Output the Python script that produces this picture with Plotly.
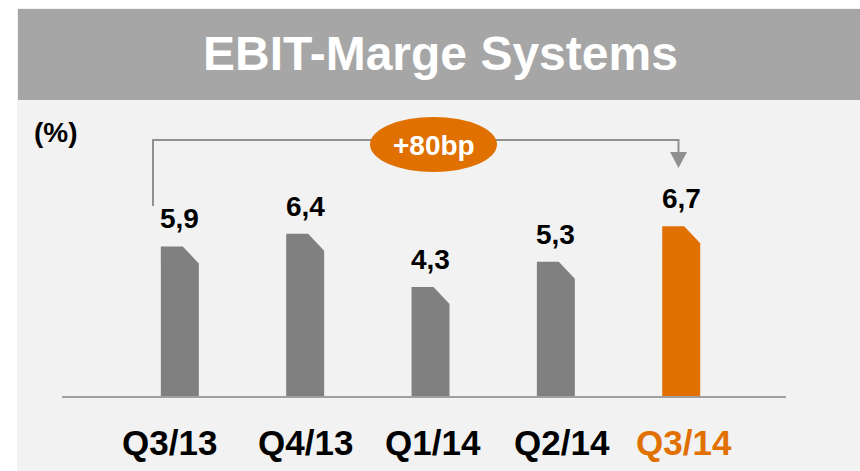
import plotly.graph_objects as go

# ---- data ----
categories = ["Q3/13", "Q4/13", "Q1/14", "Q2/14", "Q3/14"]
values = [5.9, 6.4, 4.3, 5.3, 6.7]
value_labels = ["5,9", "6,4", "4,3", "5,3", "6,7"]
title_text = "EBIT-Marge Systems"
unit_text = "(%)"
delta_text = "+80bp"

# ---- styles ----
GRAY_BAR = "#808080"
ORANGE = "#E07000"
bar_colors = [GRAY_BAR, GRAY_BAR, GRAY_BAR, GRAY_BAR, ORANGE]
label_colors = ["#000000", "#000000", "#000000", "#000000", ORANGE]
label_xshift = [-10, 0, 2, 6, 3]   # pixel nudges of category labels
PANEL = "#F2F2F2"
BANNER = "#A6A6A6"
LINE = "#909090"
FONT = "Liberation Sans, Arial, sans-serif"

W, H = 860, 471
ML, MR, MT, MB = 62, 74, 100, 75
PLOT_W = W - ML - MR
PLOT_H = H - MT - MB
Y_MAX = 11.68

BAR_W = 0.303      # in category units
CUT_X = 0.128      # corner cut, category units
CUT_Y = 0.67       # corner cut, value units


def px(x):
    return (x - ML) / PLOT_W


def py(y):
    return (H - MB - y) / PLOT_H


fig = go.Figure()

# bars with clipped top-right corner
for i, (v, c) in enumerate(zip(values, bar_colors)):
    xl, xr = i - BAR_W / 2, i + BAR_W / 2
    fig.add_trace(go.Scatter(
        x=[xl, xl, xr - CUT_X, xr, xr, xl],
        y=[0, v, v, v - CUT_Y, 0, 0],
        mode="lines", fill="toself", fillcolor=c,
        line=dict(width=0, color=c), hoverinfo="skip", showlegend=False,
    ))

annotations = []
# value labels
for i, (v, t) in enumerate(zip(values, value_labels)):
    annotations.append(dict(
        x=i, y=v, xref="x", yref="y", text=t, showarrow=False,
        yanchor="bottom", yshift=10,
        font=dict(family=FONT, size=28, color="#000000", weight="bold"),
    ))
# category labels
for i, (t, c, dx) in enumerate(zip(categories, label_colors, label_xshift)):
    annotations.append(dict(
        x=i, y=0, xref="x", yref="y", text=t, showarrow=False,
        yanchor="middle", yshift=-46, xshift=dx,
        font=dict(family=FONT, size=35, color=c, weight="bold"),
    ))
# title
annotations.append(dict(
    x=px(440), y=py(54), xref="paper", yref="paper", text=title_text,
    showarrow=False, xanchor="center", yanchor="middle",
    font=dict(family=FONT, size=48, color="#FFFFFF", weight="bold"),
))
# unit
annotations.append(dict(
    x=px(32), y=py(132), xref="paper", yref="paper", text=unit_text,
    showarrow=False, xanchor="left", yanchor="middle",
    font=dict(family=FONT, size=28, color="#000000", weight="bold"),
))
# delta text
annotations.append(dict(
    x=px(434), y=py(145), xref="paper", yref="paper", text=delta_text,
    showarrow=False, xanchor="center", yanchor="middle",
    font=dict(family=FONT, size=28, color="#FFFFFF", weight="bold"),
))

shapes = [
    # panel
    dict(type="rect", xref="paper", yref="paper", x0=px(17), x1=px(W + 2),
         y0=py(H + 2), y1=py(8), fillcolor=PANEL, line=dict(width=0), layer="below"),
    # banner
    dict(type="rect", xref="paper", yref="paper", x0=px(18), x1=px(W + 2),
         y0=py(100), y1=py(9), fillcolor=BANNER, line=dict(width=0), layer="below"),
    # bracket
    dict(type="path", xref="paper", yref="paper",
         path=f"M {px(153)},{py(206)} L {px(153)},{py(140)} L {px(678.5)},{py(140)} L {px(678.5)},{py(153)}",
         line=dict(color=LINE, width=2), layer="above"),
    # arrow head
    dict(type="path", xref="paper", yref="paper",
         path=f"M {px(670)},{py(152)} L {px(687)},{py(152)} L {px(678.5)},{py(168)} Z",
         fillcolor=LINE, line=dict(width=0), layer="above"),
    # ellipse
    dict(type="circle", xref="paper", yref="paper", x0=px(370), x1=px(497),
         y0=py(172), y1=py(117), fillcolor=ORANGE, line=dict(width=0), layer="above"),
]

fig.update_layout(
    width=W, height=H,
    margin=dict(l=ML, r=MR, t=MT, b=MB, pad=0),
    paper_bgcolor="#FFFFFF", plot_bgcolor="rgba(0,0,0,0)",
    showlegend=False,
    xaxis=dict(range=[-0.94, 4.836], showticklabels=False, showgrid=False,
               zeroline=False, showline=True, linecolor="#A0A0A0", linewidth=2,
               ticks="", fixedrange=True),
    yaxis=dict(range=[0, Y_MAX], visible=False, fixedrange=True),
    shapes=shapes,
    annotations=annotations,
)

fig.write_html(
    "out.html",
    config={"displayModeBar": False},
    post_script="document.body.style.margin='0';document.body.style.overflow='hidden';",
)
